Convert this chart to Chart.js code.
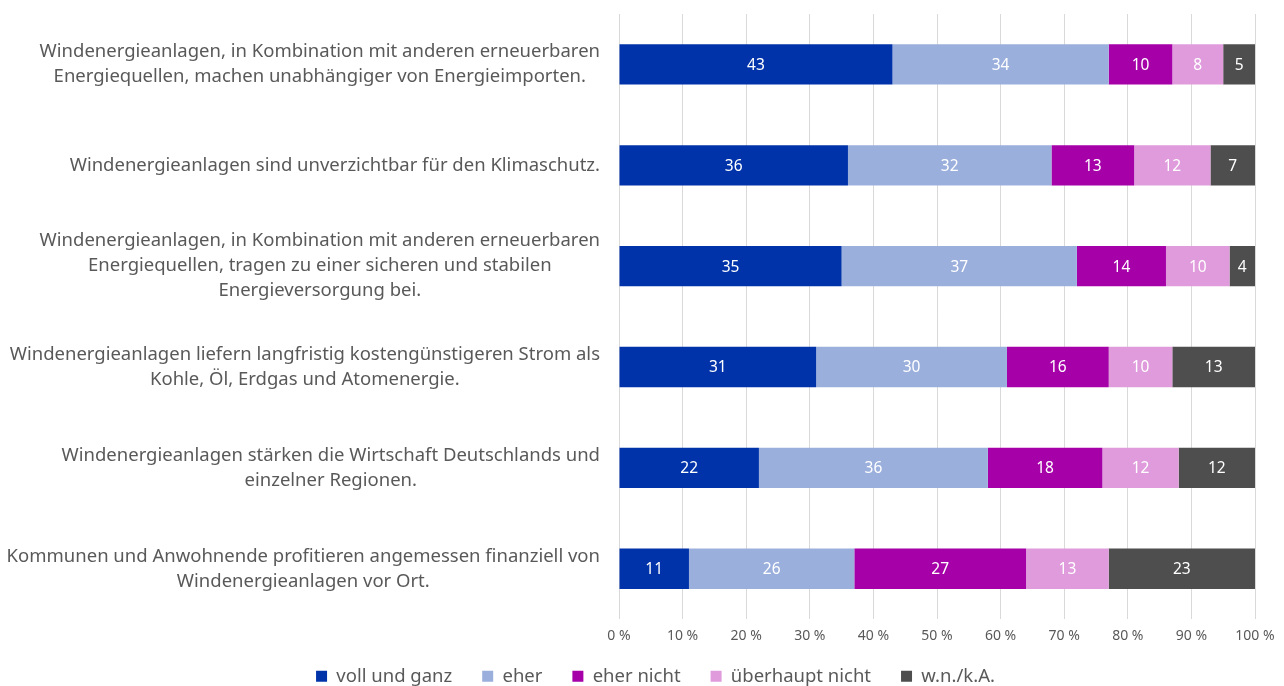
<!DOCTYPE html>
<html>
<head>
<meta charset="utf-8">
<script src="https://cdn.jsdelivr.net/npm/chart.js@4"></script>
<style>
  html, body { margin: 0; padding: 0; background: #fff; }
  #wrap { width: 1284px; height: 686px; position: relative; }
</style>
</head>
<body>
<div id="wrap"><canvas id="chart"></canvas></div>
<script>
// Statements (each label split into lines)
const categories = [
    ['Windenergieanlagen, in Kombination mit anderen erneuerbaren', 'Energiequellen, machen unabhängiger von Energieimporten.'],
    ['Windenergieanlagen sind unverzichtbar für den Klimaschutz.'],
    ['Windenergieanlagen, in Kombination mit anderen erneuerbaren', 'Energiequellen, tragen zu einer sicheren und stabilen', 'Energieversorgung bei.'],
    ['Windenergieanlagen liefern langfristig kostengünstigeren Strom als', 'Kohle, Öl, Erdgas und Atomenergie.'],
    ['Windenergieanlagen stärken die Wirtschaft Deutschlands und', 'einzelner Regionen.'],
    ['Kommunen und Anwohnende profitieren angemessen finanziell von', 'Windenergieanlagen vor Ort.']
];

const seriesNames = ['voll und ganz', 'eher', 'eher nicht', 'überhaupt nicht', 'w.n./k.A.'];

const vollUndGanz     = [43, 36, 35, 31, 22, 11];
const eher            = [34, 32, 37, 30, 36, 26];
const eherNicht       = [10, 13, 14, 16, 18, 27];
const ueberhauptNicht = [8, 12, 10, 10, 12, 13];
const wnka            = [5, 7, 4, 13, 12, 23];

const seriesColors = ['#0033a9', '#9bafdc', '#a600a8', '#df9bdc', '#4e4e4e'];

const FONT = "'Noto Sans', sans-serif";
const LEGEND_HEIGHT = 34;
const LEGEND_SHIFT = 15;
const LEGEND_NUDGE_X = 28;

// Category labels: block right-aligned, lines centered inside the block
const labelPlugin = {
    id: 'catLabels',
    afterDraw(chart) {
        const ctx = chart.ctx;
        const yScale = chart.scales.y;
        const rightEdge = 600;
        const lineH = 25;
        ctx.save();
        ctx.font = '18.5px ' + FONT;
        ctx.fillStyle = '#595959';
        ctx.textAlign = 'center';
        ctx.textBaseline = 'middle';
        categories.forEach((lines, i) => {
            const yc = yScale.getPixelForValue(i);
            let maxW = 0;
            lines.forEach(l => { maxW = Math.max(maxW, ctx.measureText(l).width); });
            const xc = rightEdge - maxW / 2;
            const y0 = yc - (lines.length - 1) * lineH / 2;
            lines.forEach((l, j) => ctx.fillText(l, xc, y0 + j * lineH));
        });
        ctx.restore();
    }
};

// Values inside the segments
const valuePlugin = {
    id: 'segValues',
    afterDatasetsDraw(chart) {
        const ctx = chart.ctx;
        ctx.save();
        ctx.font = '15.5px ' + FONT;
        ctx.fillStyle = '#ffffff';
        ctx.textAlign = 'center';
        ctx.textBaseline = 'middle';
        chart.data.datasets.forEach((ds, di) => {
            const meta = chart.getDatasetMeta(di);
            meta.data.forEach((bar, i) => {
                const xc = (bar.x + bar.base) / 2;
                ctx.fillText(String(ds.data[i]), xc, bar.y + 1);
            });
        });
        ctx.restore();
    }
};

// pull the legend up into the free space under the tick labels
// (only the top moves, so the clip area still reaches the bottom edge)
const legendShift = {
    id: 'legendShift',
    afterLayout(chart) {
        if (!chart.legend) return;
        chart.legend.top -= LEGEND_SHIFT;
        chart.legend.left += LEGEND_NUDGE_X;
        chart.legend.right += LEGEND_NUDGE_X;
    }
};

const datasetsData = [vollUndGanz, eher, eherNicht, ueberhauptNicht, wnka];

const chart = new Chart(document.getElementById('chart'), {
    type: 'bar',
    data: {
        labels: categories.map(c => c.join(' ')),
        datasets: datasetsData.map((d, i) => ({
            label: seriesNames[i],
            data: d,
            backgroundColor: seriesColors[i],
            borderWidth: 0,
            barPercentage: 0.4,
            categoryPercentage: 1.0
        }))
    },
    options: {
        indexAxis: 'y',
        responsive: true,
        maintainAspectRatio: false,
        animation: false,
        layout: { padding: { left: 0, right: 29, top: 14, bottom: 0 } },
        scales: {
            x: {
                stacked: true,
                min: 0,
                max: 100,
                z: 1,
                ticks: {
                    stepSize: 10,
                    padding: 8,
                    color: '#595959',
                    font: { family: FONT, size: 14 },
                    callback: v => v + ' %'
                },
                grid: { color: 'rgba(0,0,0,0.15)', drawTicks: false },
                border: { display: false }
            },
            y: {
                stacked: true,
                ticks: { display: false },
                grid: { display: false },
                border: { display: false },
                afterFit(scale) { scale.width = 619; }
            }
        },
        plugins: {
            legend: {
                position: 'bottom',
                labels: {
                    boxWidth: 11,
                    boxHeight: 11,
                    padding: 30,
                    color: '#595959',
                    font: { family: FONT, size: 18.5 }
                }
            },
            tooltip: { enabled: false }
        }
    },
    plugins: [labelPlugin, valuePlugin, legendShift]
});

// keep the legend box compact so the plot gets the height
const legendFit = chart.legend.fit;
chart.legend.fit = function () {
    legendFit.call(this);
    this.height = LEGEND_HEIGHT;
};
chart.update();
</script>
</body>
</html>
